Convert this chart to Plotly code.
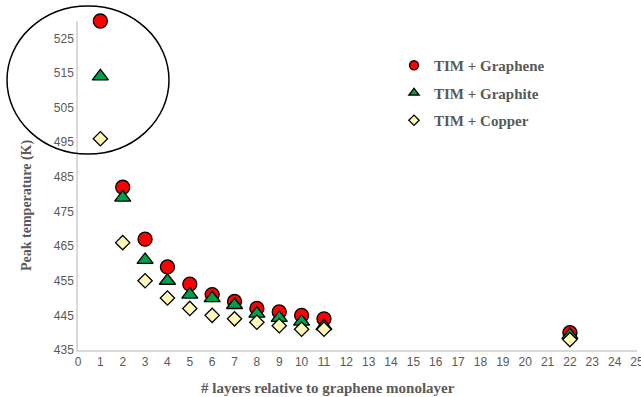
import plotly.graph_objects as go

layers = [1, 2, 3, 4, 5, 6, 7, 8, 9, 10, 11, 22]
graphene = [530, 482, 467, 459, 454, 451, 449, 447, 446, 445, 444, 440]
graphite = [514, 479, 461, 455, 451, 450, 448, 445.5, 444.3, 443.2, 441.9, 439.3]
copper = [496, 466, 455, 450, 447, 445, 444, 443, 442, 441, 441, 438]
series_names = ["TIM + Graphene", "TIM + Graphite", "TIM + Copper"]
x_ticks = list(range(0, 26))
y_ticks = list(range(435, 526, 10))

W, H = 641, 397
L, R, T, B = 78, 4, 21, 47
pw, ph = W - L - R, H - T - B

def px(x):
    return (x - L) / pw

def py(y):
    return (H - B - y) / ph

fig = go.Figure()
styles = [
    dict(symbol="circle", color="#FF0000", size=14, lsize=9),
    dict(symbol="triangle-up", color="#00A04A", size=14, lsize=9),
    dict(symbol="diamond", color="#FFF8B8", size=11, lsize=8),
]
for name, vals, st, g in zip(series_names, [graphene, graphite, copper], styles, ["a", "b", "c"]):
    fig.add_trace(go.Scatter(
        x=layers, y=vals, mode="markers", name=name, legendgroup=g, showlegend=False,
        marker=dict(symbol=st["symbol"], color=st["color"], size=st["size"],
                    line=dict(color="black", width=1.3)),
        cliponaxis=False,
    ))
    fig.add_trace(go.Scatter(
        x=[None], y=[None], mode="markers", name="<b>" + name + "</b>", legendgroup=g,
        marker=dict(symbol=st["symbol"], color=st["color"], size=st["lsize"],
                    line=dict(color="black", width=1.3)),
    ))

fig.update_layout(
    width=W, height=H,
    margin=dict(l=L, r=R, t=T, b=B, autoexpand=False),
    paper_bgcolor="white", plot_bgcolor="white",
    showlegend=True,
    legend=dict(x=px(394), y=py(49), xanchor="left", yanchor="top",
                font=dict(family="Liberation Serif", size=15, color="#595959"),
                traceorder="grouped", tracegroupgap=5, itemwidth=30,
                bgcolor="rgba(0,0,0,0)"),
    xaxis=dict(range=[0, 25], tickmode="array", tickvals=x_ticks,
               showgrid=False, zeroline=False, showline=True,
               linecolor="#D9D9D9", linewidth=1.5, ticks="",
               automargin=False, ticklabeloverflow="allow",
               tickfont=dict(family="Liberation Sans", size=12, color="#595959")),
    yaxis=dict(range=[435, 530], tickmode="array", tickvals=y_ticks,
               showgrid=False, zeroline=False, showline=True,
               linecolor="#D9D9D9", linewidth=1.5, ticks="",
               automargin=False,
               tickfont=dict(family="Liberation Sans", size=12, color="#595959")),
    annotations=[
        dict(text="<b>Peak temperature (K)</b>", xref="paper", yref="paper",
             x=px(27), y=py(206), textangle=-90, showarrow=False,
             xanchor="center", yanchor="middle",
             font=dict(family="Liberation Serif", size=14, color="#595959")),
        dict(text="<b># layers relative to graphene monolayer</b>", xref="paper", yref="paper",
             x=px(328), y=py(388), showarrow=False,
             xanchor="center", yanchor="middle",
             font=dict(family="Liberation Serif", size=15, color="#595959")),
    ],
    shapes=[
        dict(type="circle", xref="paper", yref="paper",
             x0=px(7), x1=px(169), y0=py(154), y1=py(6),
             line=dict(color="black", width=1.5)),
    ],
)

fig.write_html("out.html", config={"displayModeBar": False},
               post_script="document.body.style.margin='0';")
